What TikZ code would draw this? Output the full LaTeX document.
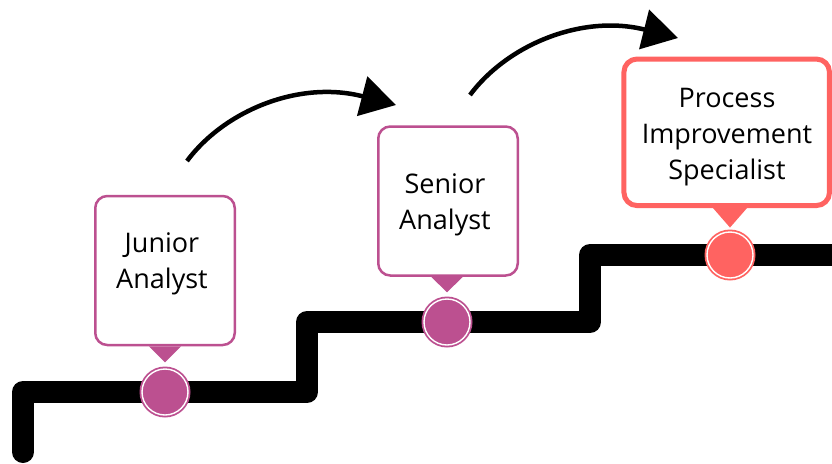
\documentclass[tikz,border=0pt]{standalone}
\usepackage{fontspec}
\setmainfont{Open Sans}
\usetikzlibrary{arrows.meta,calc}
\definecolor{mag}{HTML}{BC5090}
\definecolor{coral}{HTML}{FF6361}
\tikzset{
  stair/.style={line width=22pt, line cap=round, line join=round, draw=black},
  mbox/.style={draw=mag, line width=2.5pt, rounded corners=12pt, fill=white,
    minimum width=139.5pt, minimum height=149pt, inner sep=0pt},
  cbox/.style={draw=coral, line width=5pt, rounded corners=13pt, fill=white,
    minimum width=205.5pt, minimum height=146.5pt, inner sep=0pt},
  lbl/.style={font=\fontsize{27}{36}\selectfont, align=center, inner sep=0pt, text=black},
  dot/.style={circle, minimum size=51pt, inner sep=0pt},
  curvearrow/.style={line width=4.5pt, -{Triangle[length=35pt,width=40pt]}},
}
\begin{document}
\begin{tikzpicture}[x=1pt,y=-1pt]
\useasboundingbox (0,0) rectangle (832,463);
% staircase
\draw[stair] (23,452) -- (23,392) -- (307,392) -- (307,322) -- (590,322) -- (590,255) -- (850,255);
% circles
\node[dot, fill=mag] (jc) at (165,392) {};
\node[dot, fill=mag] (sc) at (447,322) {};
\node[dot, fill=coral] (pc) at (730,255) {};
\draw[white, line width=1.4pt] (jc.center) circle (23pt);
\draw[white, line width=1.4pt] (sc.center) circle (23pt);
\draw[white, line width=1.4pt] (pc.center) circle (23pt);
% boxes
\node[mbox] (jbox) at (165,270.5) {};
\node[mbox] (sbox) at (448,201) {};
\node[cbox] (pbox) at (726.7,132.3) {};
% pointers
\fill[mag] ($(jc |- jbox.south)+(-16,0)$) -- ($(jc |- jbox.south)+(16,0)$) -- ($(jc |- jbox.south)+(0,16)$) -- cycle;
\fill[mag] ($(sc |- sbox.south)+(-16,0)$) -- ($(sc |- sbox.south)+(16,0)$) -- ($(sc |- sbox.south)+(0,15.5)$) -- cycle;
\fill[coral] ($(pc |- pbox.south)+(-17,0)$) -- ($(pc |- pbox.south)+(17,0)$) -- ($(pc |- pbox.south)+(0,19.5)$) -- cycle;
% labels
\node[lbl] (jt) at (162,264.2) {Junior\\Analyst};
\node[lbl] (st) at (445,205.2) {Senior\\Analyst};
\node[lbl] (pt) at (727,136.8) {Process\\Improvement\\Specialist};
% arrows
\coordinate (a1s) at (187,161);
\coordinate (a1e) at (396,105);
\coordinate (a2s) at (470,95);
\coordinate (a2e) at (678,38);
\draw[curvearrow] (a1s) .. controls (225,110) and (300,80) .. (a1e);
\draw[curvearrow] (a2s) .. controls (508,44) and (583,14) .. (a2e);
\end{tikzpicture}
\end{document}
